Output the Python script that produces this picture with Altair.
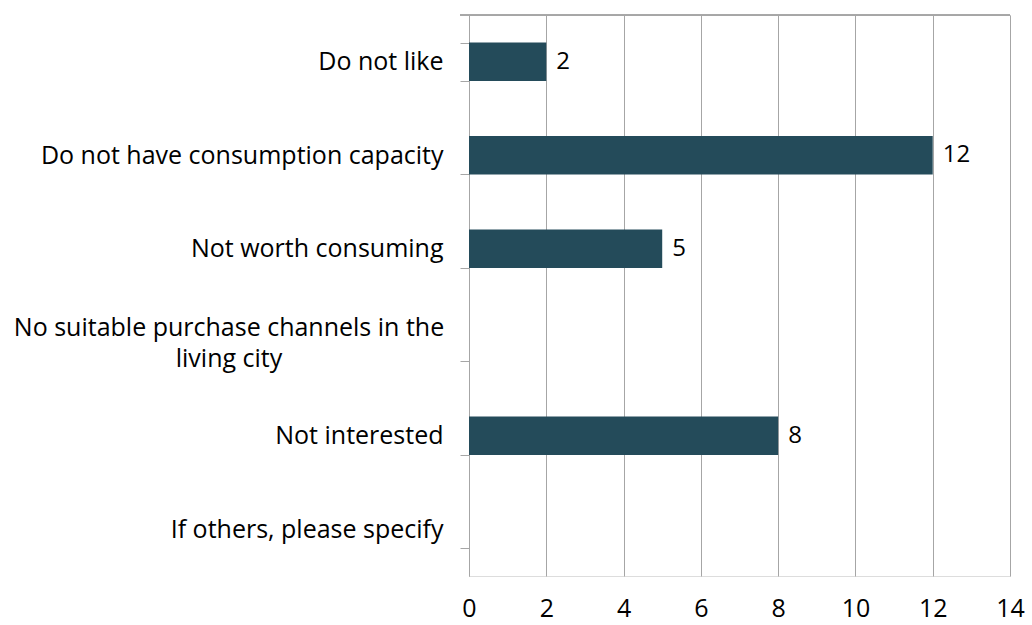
import altair as alt
import pandas as pd

categories = [
    "Do not like",
    "Do not have consumption capacity",
    "Not worth consuming",
    "No suitable purchase channels in the living city",
    "Not interested",
    "If others, please specify",
]
values = [2, 12, 5, None, 8, None]
x_ticks = [0, 2, 4, 6, 8, 10, 12, 14]

df = pd.DataFrame({"category": categories, "value": values})

FONT = "Open Sans"
GRID = "#A6A6A6"
BAR = "#244B5A"
W, H = 541, 561
LONG = "No suitable purchase channels in the living city"

y_enc = alt.Y(
    "category:N",
    sort=categories,
    scale=alt.Scale(domain=categories, paddingInner=0.59, paddingOuter=0.295),
    axis=alt.Axis(
        title=None,
        domainColor=GRID,
        tickColor=GRID,
        tickSize=9,
        tickBand="extent",
        labelPadding={"condition": {"test": f"datum.value == '{LONG}'", "value": 231.5}, "value": 17},
        labelAlign={"condition": {"test": f"datum.value == '{LONG}'", "value": "center"}, "value": "right"},
        labelOffset={"condition": {"test": f"datum.value == '{LONG}'", "value": -15}, "value": 0},
        labelFont=FONT,
        labelFontSize=25,
        labelColor="#000000",
        labelLimit=500,
        labelLineHeight=31,
        labelExpr=f"datum.label == '{LONG}' ? ['No suitable purchase channels in the', 'living city'] : datum.label",
    ),
)

x_enc = alt.X(
    "value:Q",
    scale=alt.Scale(domain=[0, 14], nice=False),
    axis=alt.Axis(
        title=None,
        values=x_ticks,
        domain=False,
        ticks=False,
        grid=True,
        gridColor=GRID,
        labelFlush=False,
        labelPadding=20,
        labelFont=FONT,
        labelFontSize=25,
        labelColor="#000000",
    ),
)

bars = alt.Chart(df).mark_bar(color=BAR).encode(x=x_enc, y=y_enc)

text = (
    alt.Chart(df)
    .transform_filter("isValid(datum.value)")
    .mark_text(align="left", baseline="middle", dx=10, font=FONT, fontSize=24, color="#000000")
    .encode(x="value:Q", y=alt.Y("category:N", sort=categories), text="value:Q")
)

top_line = alt.Chart(df).mark_rule(color=GRID, strokeWidth=1).encode(
    x=alt.value(-9), x2=alt.value(W), y=alt.value(0)
)

chart = (
    alt.layer(bars, text, top_line)
    .properties(
        width=W,
        height=H,
        autosize=alt.AutoSizeParams(type="none"),
        padding={"left": 469, "top": 15, "right": 22, "bottom": 49},
    )
    .configure_view(stroke=None)
    .configure(background="white")
)

chart.save("out.html", embed_options={"renderer": "svg", "actions": False})
